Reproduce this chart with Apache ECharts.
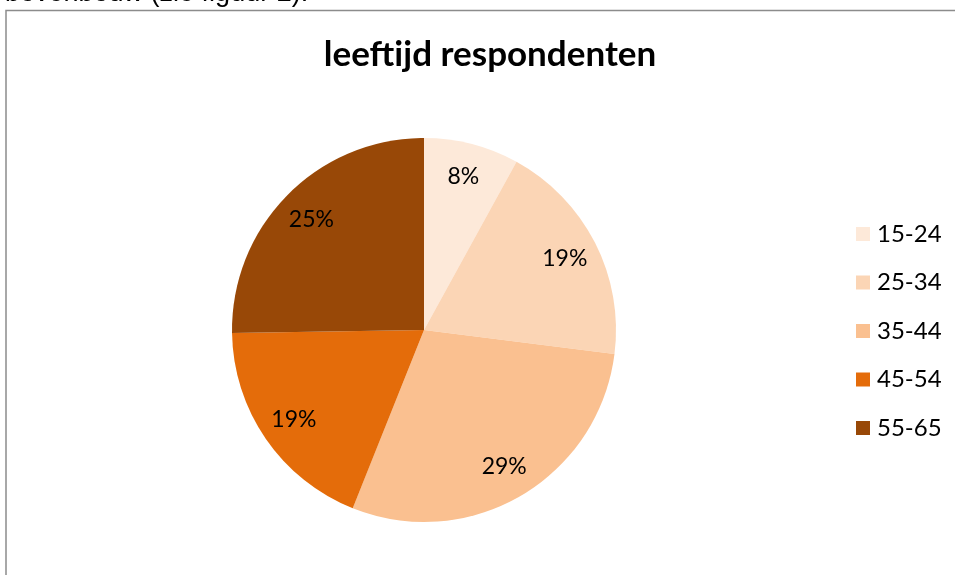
<!DOCTYPE html>
<html>
<head>
<meta charset="utf-8">
<script src="https://cdn.jsdelivr.net/npm/echarts@6/dist/echarts.min.js"></script>
<style>
  html, body { margin: 0; padding: 0; background: #fff; }
  #chart { width: 955px; height: 575px; }
</style>
</head>
<body>
<div id="chart"></div>
<script>
// leeftijdsgroepen en aandeel (%)
var categories = ['15-24', '25-34', '35-44', '45-54', '55-65'];
var values = [8, 19, 29.05, 18.7, 25.25];
var colors = ['#FDE9D9', '#FBD5B5', '#FAC090', '#E46C0A', '#984807'];

var pieData = categories.map(function (c, i) {
  return { name: c, value: values[i], itemStyle: { color: colors[i] } };
});
// zelfde data, alleen voor de labels verder naar buiten
var labelData = categories.map(function (c, i) {
  return { name: c, value: values[i] };
});

var myChart = echarts.init(document.getElementById('chart'));
var option = {
  animation: false,
  title: {
    text: 'leeftijd respondenten',
    left: 485,
    top: 32,
    textAlign: 'center',
    textStyle: { fontFamily: 'Lato', fontWeight: 'bold', fontSize: 35, color: '#000' }
  },
  graphic: [
    {
      type: 'rect',
      shape: { x: 6, y: 10.5, width: 1000, height: 600 },
      style: { fill: 'none', stroke: '#8c8c8c', lineWidth: 1.5 },
      silent: true
    },
    {
      type: 'text',
      left: 5,
      top: -20,
      style: { text: 'bovenbouw (zie figuur 2).', font: '27px "Liberation Sans"', fill: '#000' },
      silent: true
    }
  ],
  legend: {
    orient: 'vertical',
    left: 851,
    top: 217,
    icon: 'rect',
    itemWidth: 14,
    itemHeight: 14,
    itemGap: 24.5,
    data: categories,
    textStyle: { fontFamily: 'Lato', fontSize: 24, lineHeight: 24, color: '#000', padding: [0, 0, 0, 2] }
  },
  series: [
    {
      name: 'leeftijd',
      type: 'pie',
      center: [424, 330],
      radius: [0, 192],
      startAngle: 90,
      clockwise: true,
      data: pieData,
      label: { show: false },
      labelLine: { show: false },
      itemStyle: { borderWidth: 0 },
      emphasis: { disabled: true }
    },
    {
      name: 'labels',
      type: 'pie',
      center: [424, 330],
      radius: [118, 192],
      startAngle: 90,
      clockwise: true,
      silent: true,
      percentPrecision: 0,
      data: labelData,
      itemStyle: { color: 'rgba(0,0,0,0)', borderWidth: 0 },
      label: {
        show: true,
        position: 'inside',
        formatter: '{d}%',
        fontFamily: 'Lato',
        fontSize: 23,
        color: '#000'
      },
      labelLine: { show: false },
      emphasis: { disabled: true }
    }
  ]
};
myChart.setOption(option);
</script>
</body>
</html>
